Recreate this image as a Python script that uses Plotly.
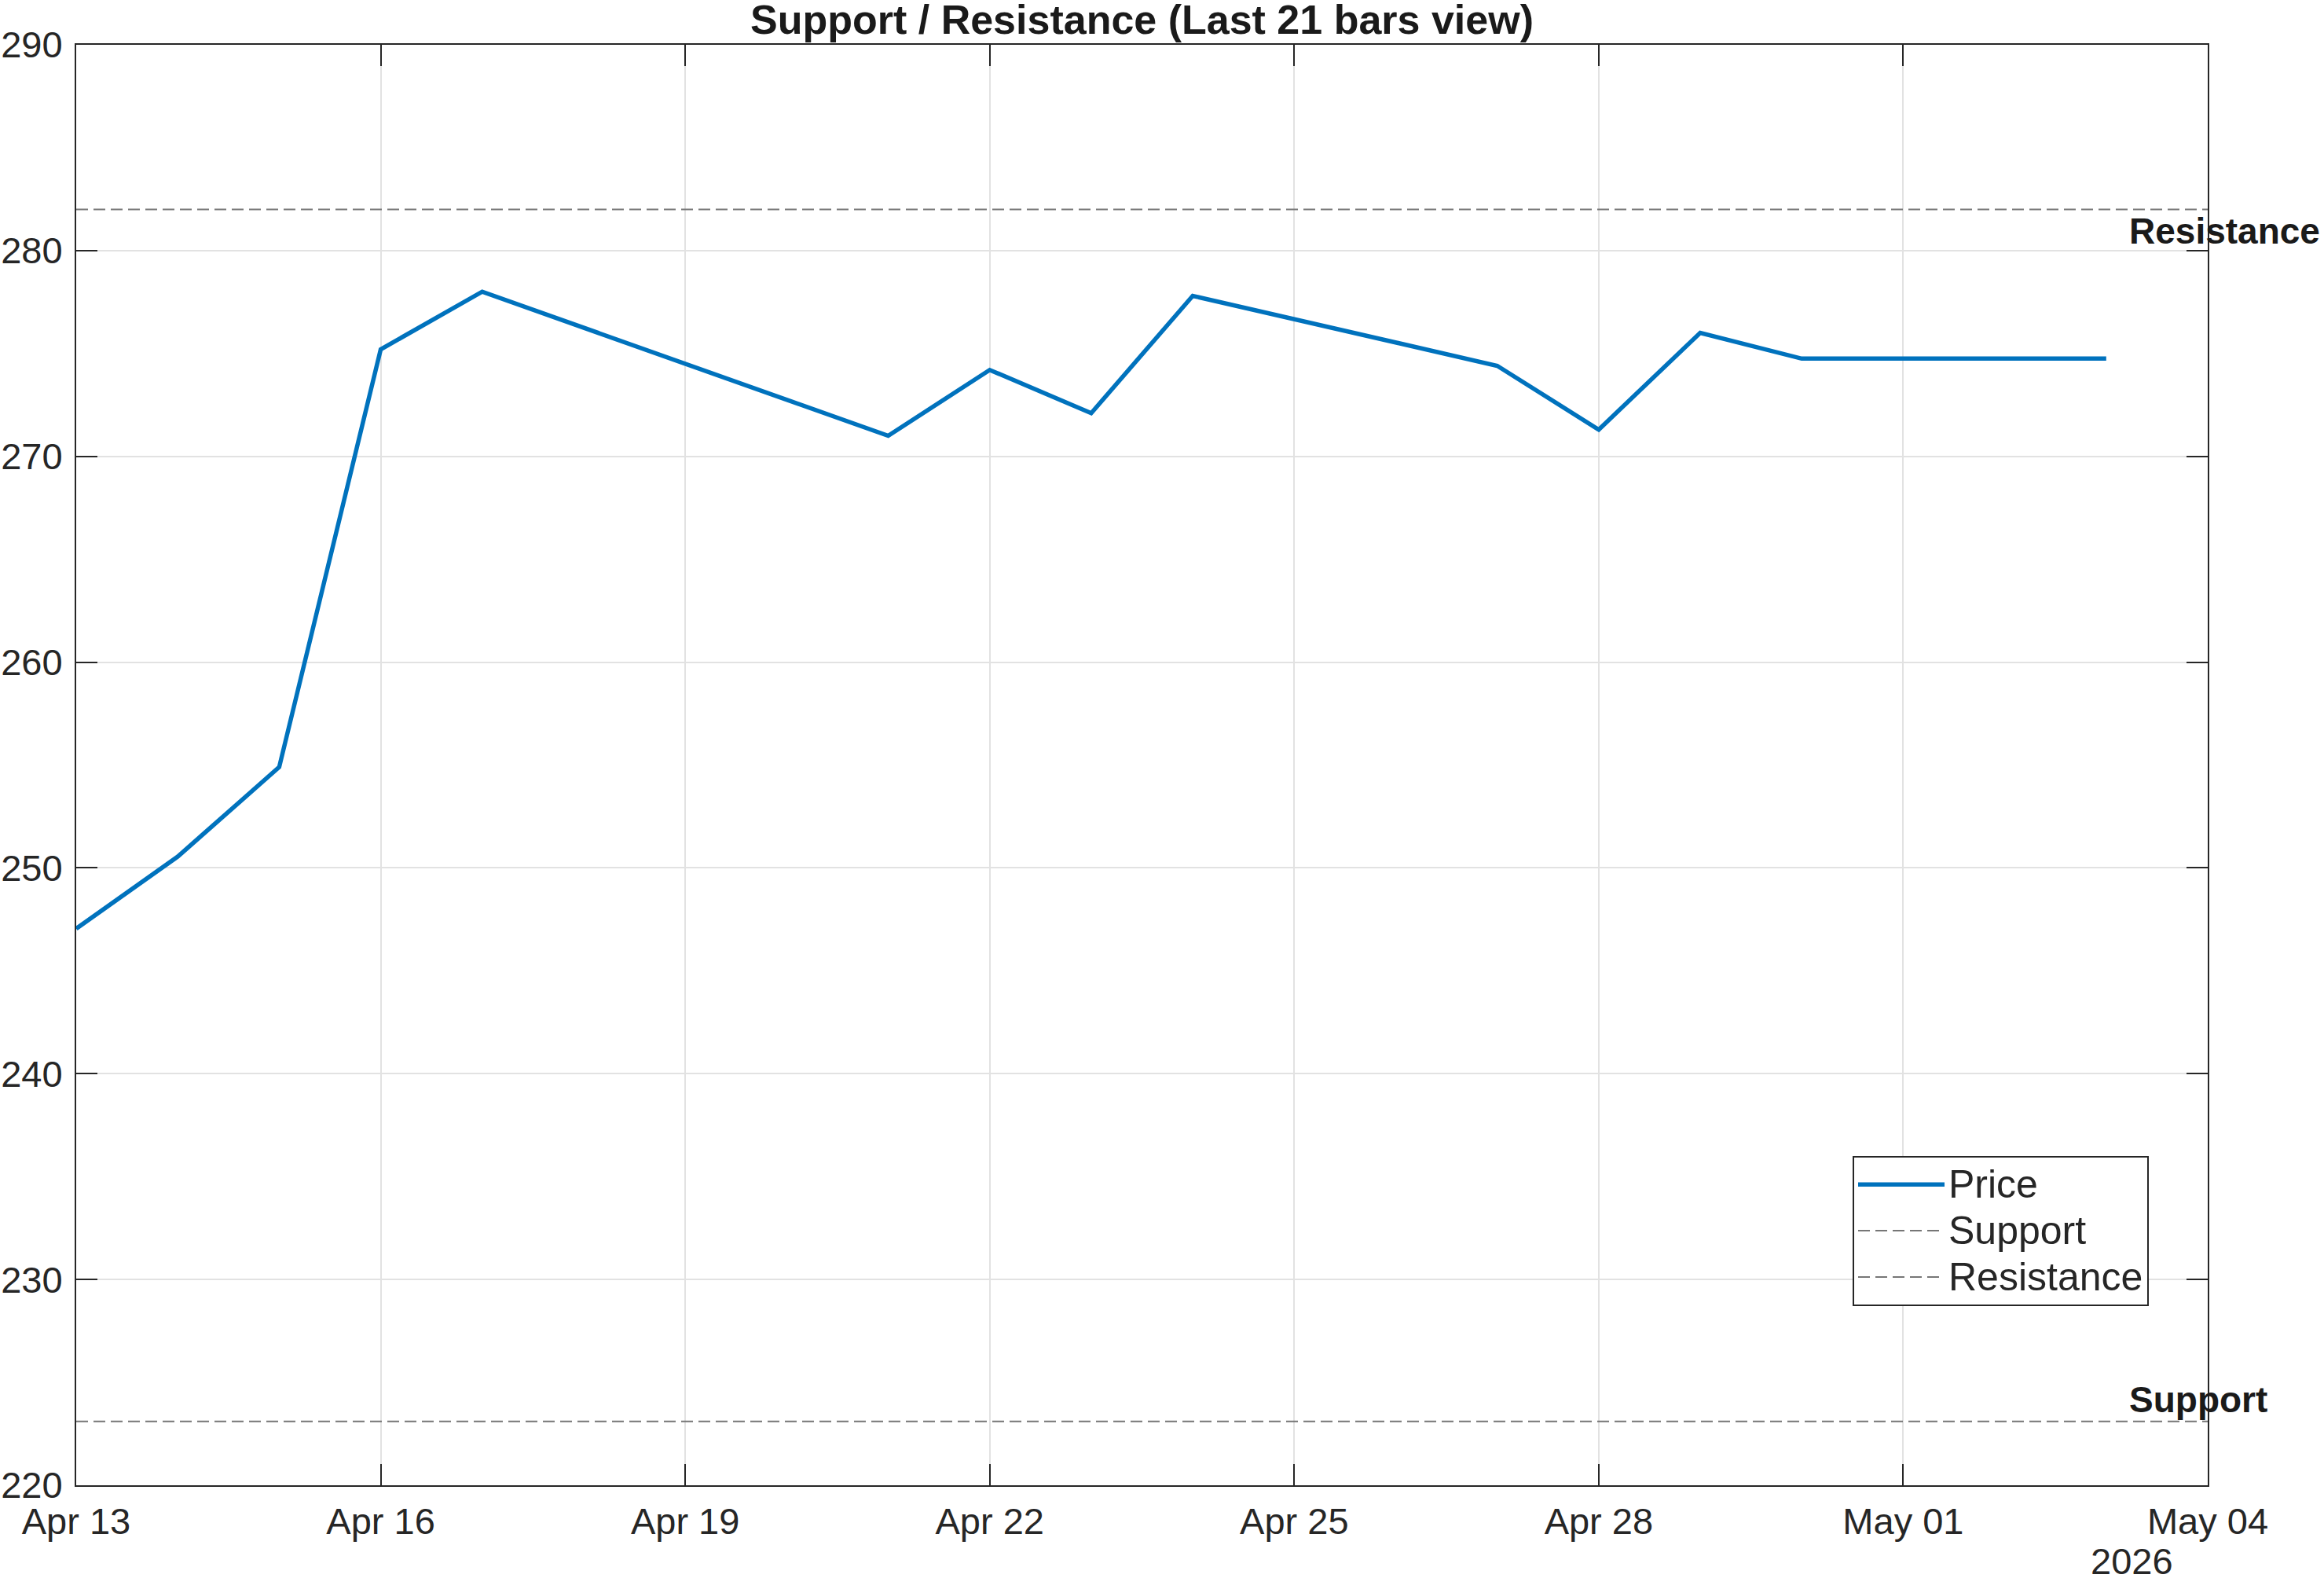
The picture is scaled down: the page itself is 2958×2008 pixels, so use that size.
import plotly.graph_objects as go

# ---- data ----
dates = ["2026-04-13", "2026-04-14", "2026-04-15", "2026-04-16", "2026-04-17",
         "2026-04-21", "2026-04-22", "2026-04-23", "2026-04-24", "2026-04-27",
         "2026-04-28", "2026-04-29", "2026-04-30", "2026-05-01", "2026-05-03"]
price = [247.05, 250.55, 254.9, 275.2, 278.0,
         271.0, 274.2, 272.1, 277.8, 274.4,
         271.3, 276.0, 274.75, 274.75, 274.75]
support_level = 223.1
resistance_level = 282.0
x_range = ["2026-04-13", "2026-05-04"]
y_range = [220, 290]
y_ticks = [220, 230, 240, 250, 260, 270, 280, 290]
series_names = ["Price", "Support", "Resistance"]
title_text = "Support / Resistance (Last 21 bars view)"
year_label = "2026"

FONT = "Liberation Sans, Arial, Helvetica, sans-serif"
AX = "#262626"


def legend_name(s):
    return '<span style="font-size:50px">' + s + "</span>"


fig = go.Figure()
fig.add_trace(go.Scatter(x=dates, y=price, mode="lines", name=legend_name(series_names[0]),
                         line=dict(color="#0072BD", width=5.5)))
fig.add_trace(go.Scatter(x=x_range, y=[support_level, support_level], mode="lines",
                         name=legend_name(series_names[1]),
                         line=dict(color="#767676", width=2, dash="15px,7px")))
fig.add_trace(go.Scatter(x=x_range, y=[resistance_level, resistance_level], mode="lines",
                         name=legend_name(series_names[2]),
                         line=dict(color="#767676", width=2, dash="15px,7px")))

fig.update_layout(
    width=2958, height=2008,
    margin=dict(l=96.5, r=148, t=56.5, b=117.5),
    paper_bgcolor="white", plot_bgcolor="white",
    font=dict(family=FONT, size=47, color=AX),
    title=dict(text="<b>" + title_text + "</b>", x=0.5, xref="paper", xanchor="center",
               y=1 - 25 / 2008, yref="container", yanchor="middle",
               font=dict(family=FONT, size=52, color="#1a1a1a")),
    showlegend=True,
    legend=dict(x=(2735 - 96.5) / 2713.5, xanchor="right",
                y=(1890.5 - 1471) / 1834, yanchor="top",
                bgcolor="white", bordercolor=AX, borderwidth=2,
                font=dict(family=FONT, size=43, color=AX),
                itemwidth=110, tracegroupgap=0),
    annotations=[
        dict(text="<b>Resistance</b>", x="2026-05-03", y=resistance_level, xref="x", yref="y",
             xanchor="left", yanchor="top", xshift=27, showarrow=False,
             font=dict(family=FONT, size=46, color="#1a1a1a")),
        dict(text="<b>Support</b>", x="2026-05-03", y=support_level, xref="x", yref="y",
             xanchor="left", yanchor="bottom", xshift=27, showarrow=False,
             font=dict(family=FONT, size=46, color="#1a1a1a")),
        dict(text=year_label, x=1, y=0, xref="paper", yref="paper",
             xanchor="right", yanchor="top", xshift=-42, yshift=-68, showarrow=False,
             font=dict(family=FONT, size=47, color=AX)),
    ],
)

fig.update_xaxes(
    type="date", range=x_range, tick0=x_range[0], dtick=3 * 86400000,
    tickformat="%b %d", ticks="inside", ticklen=27, tickwidth=2, tickcolor=AX,
    showline=True, linecolor=AX, linewidth=2, mirror="allticks",
    showgrid=True, gridcolor="#e2e2e2", gridwidth=1.5, zeroline=False,
    ticklabelstandoff=4, automargin=False,
)
fig.update_yaxes(
    range=y_range, tickvals=y_ticks, ticks="inside", ticklen=27, tickwidth=2, tickcolor=AX,
    showline=True, linecolor=AX, linewidth=2, mirror="allticks",
    showgrid=True, gridcolor="#e2e2e2", gridwidth=1.5, zeroline=False,
    ticklabelstandoff=6, automargin=False,
)

fig.write_html("out.html")
